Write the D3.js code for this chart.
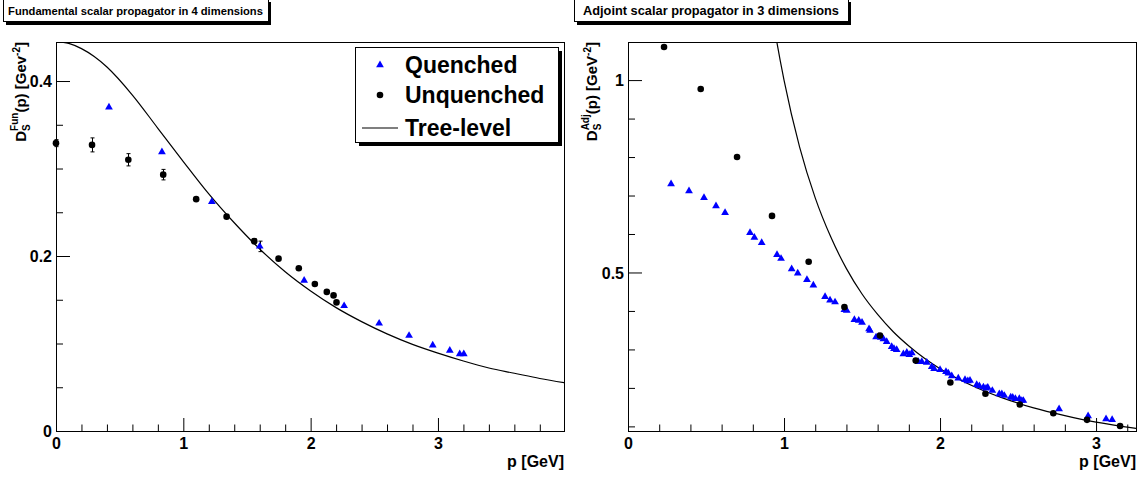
<!DOCTYPE html>
<html>
<head>
<meta charset="utf-8">
<title>Scalar propagators</title>
<script src="https://cdnjs.cloudflare.com/ajax/libs/d3/7.8.5/d3.min.js"></script>
<style>
body { margin: 0; background: #fff; }
svg { display: block; font-family: "Liberation Sans", Arial, Helvetica, sans-serif; font-weight: bold; }
.frame { fill: none; stroke: #000; stroke-width: 1; }
.tick line { stroke: #000; }
.domain { display: none; }
</style>
</head>
<body>
<svg id="chart" width="1143" height="478"></svg>
<script>

// ---- fundamental, 4 dimensions ----
var funQuenchedP   = [0.416, 0.832, 1.224, 1.600, 1.949, 2.263, 2.538, 2.773, 2.959, 3.093, 3.171, 3.203];
var funQuenchedD   = [0.370, 0.319, 0.262, 0.211, 0.172, 0.143, 0.123, 0.109, 0.098, 0.092, 0.088, 0.088];
var funQuenchedErr = [0, 0, 0, 0.006, 0, 0, 0, 0, 0, 0, 0, 0];

var funUnquenchedP   = [0.000, 0.283, 0.568, 0.842, 1.101, 1.340, 1.557, 1.748, 1.907, 2.033, 2.127, 2.180, 2.203];
var funUnquenchedD   = [0.329, 0.327, 0.310, 0.293, 0.265, 0.245, 0.217, 0.197, 0.186, 0.168, 0.159, 0.155, 0.147];
var funUnquenchedErr = [0.004, 0.008, 0.007, 0.006, 0, 0, 0.003, 0, 0, 0, 0, 0, 0];

var funTreeP = [0, 0.1, 0.2, 0.3, 0.4, 0.6, 0.8, 1.0, 1.2, 1.4, 1.6, 1.8, 2.0, 2.2, 2.4, 2.6, 2.8, 3.0, 3.2, 3.4, 3.6, 3.8, 4.0];
var funTreeD = [0.445, 0.443, 0.437, 0.428, 0.416, 0.384, 0.346, 0.308, 0.271, 0.238, 0.208, 0.182, 0.160,
                0.141, 0.125, 0.111, 0.099, 0.089, 0.080, 0.072, 0.066, 0.060, 0.055];

// ---- adjoint, 3 dimensions ----
var adjQuenchedP = [0.276, 0.391, 0.487, 0.564, 0.622, 0.782, 0.810, 0.857, 0.955, 0.981, 1.049, 1.088, 1.147, 1.188,
                    1.263, 1.295, 1.327, 1.387, 1.402, 1.451, 1.479, 1.500, 1.545, 1.551, 1.590, 1.604, 1.620, 1.637,
                    1.658, 1.690, 1.705, 1.722, 1.765, 1.787, 1.803, 1.819, 1.861, 1.883, 1.915, 1.947, 1.962, 2.000,
                    2.038, 2.053, 2.075, 2.117, 2.160, 2.178, 2.192, 2.235, 2.252, 2.278, 2.295, 2.306, 2.335, 2.380,
                    2.396, 2.412, 2.453, 2.466, 2.483, 2.508, 2.524, 2.534, 2.763, 2.949, 3.064, 3.103];
var adjQuenchedD = [0.730, 0.712, 0.694, 0.673, 0.655, 0.603, 0.591, 0.577, 0.546, 0.536, 0.509, 0.498, 0.481, 0.467,
                    0.437, 0.428, 0.423, 0.403, 0.401, 0.377, 0.375, 0.370, 0.353, 0.349, 0.332, 0.333, 0.331, 0.327,
                    0.320, 0.307, 0.302, 0.299, 0.288, 0.292, 0.286, 0.291, 0.268, 0.268, 0.266, 0.255, 0.250, 0.247,
                    0.242, 0.238, 0.231, 0.225, 0.221, 0.218, 0.219, 0.208, 0.205, 0.202, 0.199, 0.201, 0.193, 0.184,
                    0.184, 0.180, 0.176, 0.175, 0.172, 0.172, 0.167, 0.167, 0.145, 0.127, 0.119, 0.117];

var adjUnquenchedP = [0.231, 0.466, 0.699, 0.923, 1.158, 1.387, 1.615, 1.844, 2.066, 2.291, 2.511, 2.726, 2.942, 3.154];
var adjUnquenchedD = [1.086, 0.977, 0.800, 0.647, 0.528, 0.410, 0.336, 0.271, 0.214, 0.185, 0.157, 0.134, 0.117, 0.101];

var adjTreeP = [0.90, 0.95, 1.0, 1.1, 1.2, 1.3, 1.4, 1.5, 1.6, 1.7, 1.8, 1.9, 2.0, 2.2, 2.4, 2.6, 2.8, 3.0, 3.2, 3.3];
var adjTreeD = [1.235, 1.108, 1.000, 0.826, 0.694, 0.592, 0.510, 0.444, 0.391, 0.346, 0.309, 0.277, 0.250,
                0.207, 0.174, 0.148, 0.128, 0.111, 0.098, 0.092];

// tick values
var funXMajor = [0, 1, 2, 3];
var funXMinor = [0.2, 0.4, 0.6, 0.8, 1.2, 1.4, 1.6, 1.8, 2.2, 2.4, 2.6, 2.8, 3.2, 3.4, 3.6, 3.8];
var funYMajor = [0, 0.2, 0.4];
var funYMinor = [0.05, 0.1, 0.15, 0.25, 0.3, 0.35];
var adjXMajor = [0, 1, 2, 3];
var adjXMinor = [0.2, 0.4, 0.6, 0.8, 1.2, 1.4, 1.6, 1.8, 2.2, 2.4, 2.6, 2.8, 3.2];
var adjYMajor = [0.5, 1];
var adjYMinor = [0.1, 0.2, 0.3, 0.4, 0.6, 0.7, 0.8, 0.9];

var zip = function(a, b, e) {
  return a.map(function(p, i) { return { p: p, d: b[i], e: e ? e[i] : 0 }; });
};

var svg = d3.select("#chart");
svg.append("rect").attr("width", 1143).attr("height", 478).attr("fill", "#fff");

function drawPanel(cfg) {
  var x = d3.scaleLinear().domain(cfg.xDomain).range([cfg.left, cfg.right]);
  var y = d3.scaleLinear().domain(cfg.yDomain).range([cfg.bottom, cfg.top]);
  var g = svg.append("g");

  var clipId = "clip" + cfg.id;
  g.append("clipPath").attr("id", clipId).append("rect")
    .attr("x", cfg.left).attr("y", cfg.top)
    .attr("width", cfg.right - cfg.left).attr("height", cfg.bottom - cfg.top);

  var fmt = function(d) { return String(d); };

  // x axis: major + minor
  g.append("g").attr("transform", "translate(0," + cfg.bottom + ")")
    .call(d3.axisBottom(x).tickValues(cfg.xMajor).tickSizeInner(-13).tickSizeOuter(0).tickPadding(7).tickFormat(fmt))
    .call(function(a) { a.selectAll("text").attr("font-size", 16).attr("fill", "#000"); });
  g.append("g").attr("transform", "translate(0," + cfg.bottom + ")")
    .call(d3.axisBottom(x).tickValues(cfg.xMinor).tickSizeInner(-6.5).tickSizeOuter(0).tickFormat(""));

  // y axis
  g.append("g").attr("transform", "translate(" + cfg.left + ",0)")
    .call(d3.axisLeft(y).tickValues(cfg.yMajor).tickSizeInner(-14).tickSizeOuter(0).tickPadding(4).tickFormat(fmt))
    .call(function(a) { a.selectAll("text").attr("font-size", 16).attr("fill", "#000").attr("dy", "0.36em"); });
  g.append("g").attr("transform", "translate(" + cfg.left + ",0)")
    .call(d3.axisLeft(y).tickValues(cfg.yMinor).tickSizeInner(-7).tickSizeOuter(0).tickFormat(""));

  g.append("rect").attr("class", "frame")
    .attr("x", cfg.left + 0.5).attr("y", cfg.top + 0.5)
    .attr("width", cfg.right - cfg.left).attr("height", cfg.bottom - cfg.top);

  // tree-level curve
  var line = d3.line().x(function(d) { return x(d.p); }).y(function(d) { return y(d.d); })
    .curve(d3.curveMonotoneX);
  g.append("path").datum(cfg.tree)
    .attr("clip-path", "url(#" + clipId + ")")
    .attr("fill", "none").attr("stroke", "#000").attr("stroke-width", 1.2)
    .attr("d", line);

  // error bars
  var errs = cfg.quenched.concat(cfg.unquenched).filter(function(d) { return d.e > 0; });
  var eb = g.append("g").attr("stroke", "#000").attr("stroke-width", 1);
  errs.forEach(function(d) {
    var cx = Math.round(x(d.p)) + 0.5;
    eb.append("line").attr("x1", cx).attr("x2", cx).attr("y1", y(d.d - d.e)).attr("y2", y(d.d + d.e));
    eb.append("line").attr("x1", cx - 2).attr("x2", cx + 2).attr("y1", y(d.d - d.e)).attr("y2", y(d.d - d.e));
    eb.append("line").attr("x1", cx - 2).attr("x2", cx + 2).attr("y1", y(d.d + d.e)).attr("y2", y(d.d + d.e));
  });

  // quenched triangles
  var tri = d3.symbol().type(d3.symbolTriangle).size(26);
  g.append("g").selectAll("path").data(cfg.quenched).join("path")
    .attr("d", tri)
    .attr("transform", function(d) { return "translate(" + x(d.p) + "," + y(d.d) + ")"; })
    .attr("fill", "#0000ff");

  // unquenched dots
  g.append("g").selectAll("circle").data(cfg.unquenched).join("circle")
    .attr("cx", function(d) { return x(d.p); }).attr("cy", function(d) { return y(d.d); })
    .attr("r", 3.3).attr("fill", "#000");

  // x title
  g.append("text").attr("x", cfg.right).attr("y", 467).attr("text-anchor", "end")
    .attr("font-size", 16).text("p [GeV]");

  // y title with sub/superscripts
  var t = g.append("text").attr("text-anchor", "end").attr("font-size", 15)
    .attr("transform", "translate(" + cfg.yTitleX + "," + cfg.top + ") rotate(-90)");
  t.append("tspan").text("D");
  var sub = t.append("tspan").attr("dy", 4).attr("font-size", 10).text("S");
  var sup = t.append("tspan").attr("dy", -12).attr("font-size", 10).text(cfg.sup);
  sup.attr("dx", -sub.node().getComputedTextLength());
  t.append("tspan").attr("dy", 8).attr("font-size", 15).text("(p) [" + cfg.gev);
  t.append("tspan").attr("dy", -6).attr("font-size", 10).text("-2");
  t.append("tspan").attr("dy", 6).attr("font-size", 15).text("]");

  // title box with shadow
  var tb = svg.append("g");
  tb.append("rect").attr("x", cfg.titleX + 3).attr("y", 2).attr("width", cfg.titleW).attr("height", 23).attr("fill", "#000");
  tb.append("rect").attr("x", cfg.titleX + 0.5).attr("y", -1.5).attr("width", cfg.titleW).attr("height", 23)
    .attr("fill", "#fff").attr("stroke", "#000");
  tb.append("text").attr("x", cfg.titleX + cfg.titleW / 2).attr("y", 15).attr("text-anchor", "middle")
    .attr("font-size", cfg.titleSize).text(cfg.title);

  return { x: x, y: y };
}

drawPanel({
  id: "fun", left: 56, right: 564, top: 42, bottom: 431,
  xDomain: [0, 3.99], yDomain: [0, 0.4446],
  xMajor: funXMajor, xMinor: funXMinor, yMajor: funYMajor, yMinor: funYMinor,
  quenched: zip(funQuenchedP, funQuenchedD, funQuenchedErr),
  unquenched: zip(funUnquenchedP, funUnquenchedD, funUnquenchedErr),
  tree: zip(funTreeP, funTreeD),
  yTitleX: 26, sup: "Fun", gev: "Gev",
  titleX: 3, titleW: 265, titleSize: 11.2, title: "Fundamental scalar propagator in 4 dimensions"
});

drawPanel({
  id: "adj", left: 628, right: 1136, top: 42, bottom: 431,
  xDomain: [0, 3.256], yDomain: [0.088, 1.099],
  xMajor: adjXMajor, xMinor: adjXMinor, yMajor: adjYMajor, yMinor: adjYMinor,
  quenched: zip(adjQuenchedP, adjQuenchedD),
  unquenched: zip(adjUnquenchedP, adjUnquenchedD),
  tree: zip(adjTreeP, adjTreeD),
  yTitleX: 597, sup: "Adj", gev: "GeV",
  titleX: 574, titleW: 274, titleSize: 12.8, title: "Adjoint scalar propagator in 3 dimensions"
});

// legend (left panel)
var leg = svg.append("g");
leg.append("rect").attr("x", 359).attr("y", 51).attr("width", 203).attr("height", 95).attr("fill", "#000");
leg.append("rect").attr("x", 355.5).attr("y", 47.5).attr("width", 203).attr("height", 95)
  .attr("fill", "#fff").attr("stroke", "#000");
var legendLabels = ["Quenched", "Unquenched", "Tree-level"];
var legendY = [65, 95, 128];
leg.append("path").attr("d", d3.symbol().type(d3.symbolTriangle).size(26))
  .attr("transform", "translate(380," + legendY[0] + ")").attr("fill", "#0000ff");
leg.append("circle").attr("cx", 380).attr("cy", legendY[1]).attr("r", 3.3).attr("fill", "#000");
leg.append("line").attr("x1", 362).attr("x2", 398).attr("y1", legendY[2]).attr("y2", legendY[2])
  .attr("stroke", "#000").attr("stroke-width", 1.2);
leg.selectAll("text").data(legendLabels).join("text")
  .attr("x", 405).attr("y", function(d, i) { return legendY[i] + 8; })
  .attr("font-size", 23).text(function(d) { return d; });

</script>
</body>
</html>
